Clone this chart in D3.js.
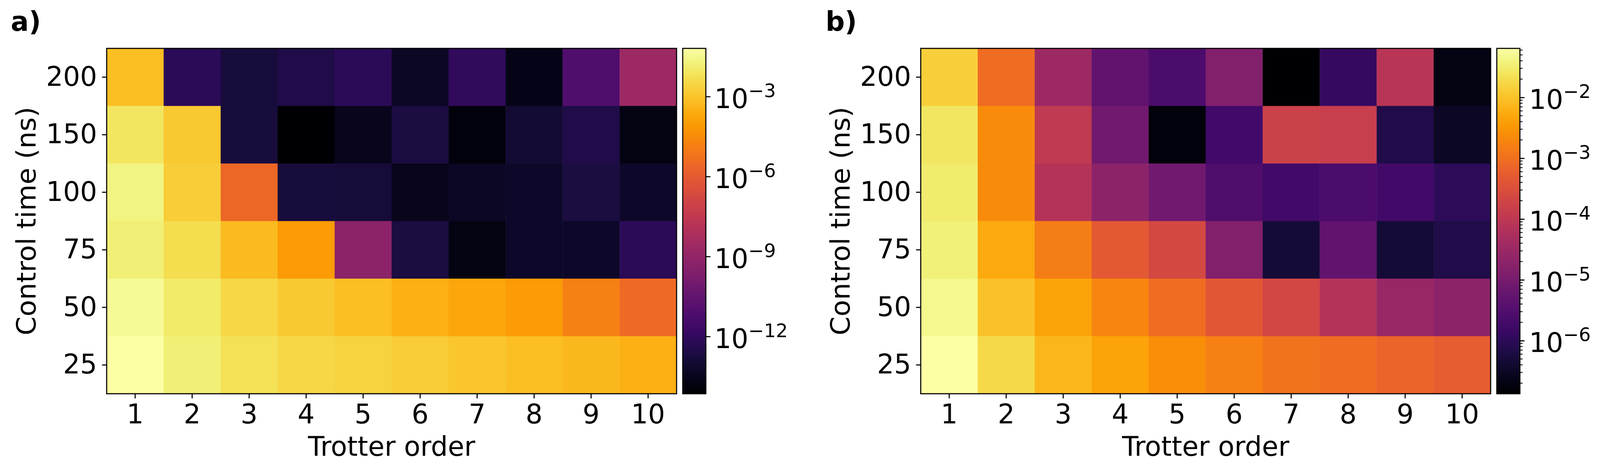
<!DOCTYPE html>
<html>
<head>
<meta charset="utf-8">
<script src="https://d3js.org/d3.v7.min.js"></script>
<style>
  html, body { margin: 0; background: #fff; overflow: hidden; }
  svg { display: block; width: 100vw; height: 100vh; }
  text { font-family: "DejaVu Sans", sans-serif; fill: #000; }
</style>
</head>
<body>
<svg viewBox="0 0 4155 1207" preserveAspectRatio="none"></svg>
<script>
// trotter orders (columns) and control times in ns (rows, top to bottom)
var orders = [1, 2, 3, 4, 5, 6, 7, 8, 9, 10];
var times = [200, 150, 100, 75, 50, 25];

// panel a) values, one row per control time
var errorsA = [
  [7.6e-4, 6.6e-13, 1.5e-13, 2.7e-13, 6.6e-13, 4.6e-14, 8.9e-13, 2.5e-14, 7.2e-12, 2.1e-9],
  [8.1e-3, 1.4e-3, 1.5e-13, 7.1e-15, 3.4e-14, 2.0e-13, 1.4e-14, 1.1e-13, 2.7e-13, 1.9e-14],
  [2.0e-2, 1.9e-3, 2.6e-6, 1.5e-13, 1.4e-13, 3.4e-14, 4.6e-14, 6.2e-14, 2.0e-13, 6.2e-14],
  [1.5e-2, 4.5e-3, 5.6e-4, 9.3e-5, 6.3e-10, 2.0e-13, 1.9e-14, 6.2e-14, 6.0e-14, 6.6e-13],
  [3.6e-2, 1.1e-2, 3.4e-3, 1.4e-3, 7.6e-4, 3.1e-4, 1.7e-4, 9.3e-5, 1.6e-5, 3.5e-6],
  [6.4e-2, 1.5e-2, 6.1e-3, 3.4e-3, 2.5e-3, 1.6e-3, 1.2e-3, 7.6e-4, 4.9e-4, 3.1e-4]
];

// panel b) values
var errorsB = [
  [1.4e-2, 9.0e-4, 3.4e-5, 4.8e-6, 2.5e-6, 1.4e-5, 1.34e-7, 1.3e-6, 8.5e-5, 2.1e-7],
  [2.6e-2, 2.2e-3, 1.1e-4, 8.1e-6, 1.8e-7, 1.9e-6, 1.7e-4, 1.4e-4, 6.8e-7, 3.1e-7],
  [3.0e-2, 2.2e-3, 7.4e-5, 2.0e-5, 8.1e-6, 2.8e-6, 1.9e-6, 2.5e-6, 1.9e-6, 1.0e-6],
  [3.5e-2, 5.5e-3, 1.5e-3, 4.7e-4, 2.4e-4, 1.4e-5, 4.6e-7, 4.8e-6, 4.6e-7, 6.8e-7],
  [4.5e-2, 1.0e-2, 4.3e-3, 1.9e-3, 8.9e-4, 4.1e-4, 2.1e-4, 7.4e-5, 3.0e-5, 2.0e-5],
  [6.4e-2, 1.8e-2, 7.2e-3, 4.3e-3, 2.5e-3, 1.7e-3, 1.1e-3, 8.9e-4, 6.9e-4, 5.3e-4]
];

// colorbar ticks (exponents of ten)
var cbTicksA = [-3, -6, -9, -12];
var cbTicksB = [-2, -3, -4, -5, -6];

var svg = d3.select("svg");
var fs = 69.4, lw = 2.8;
var plotTop = 124, plotW = 1480, plotH = 885;

function drawPanel(opt) {
  var g = svg.append("g");
  var x = d3.scaleBand().domain(orders).range([opt.left, opt.left + plotW]);
  var y = d3.scaleBand().domain(times).range([plotTop, plotTop + plotH]);
  var flat = [].concat.apply([], opt.data);
  var color = d3.scaleSequentialLog(d3.interpolateInferno).domain(d3.extent(flat));

  var cells = [];
  opt.data.forEach(function(row, i) {
    row.forEach(function(v, j) {
      cells.push({ t: times[i], o: orders[j], v: v });
    });
  });

  g.selectAll("rect.cell")
    .data(cells)
    .enter()
    .append("rect")
    .attr("class", "cell")
    .attr("x", function(d) { return x(d.o); })
    .attr("y", function(d) { return y(d.t); })
    .attr("width", x.bandwidth() + 0.5)
    .attr("height", y.bandwidth() + 0.5)
    .attr("fill", function(d) { return color(d.v); });

  g.append("rect")
    .attr("x", opt.left).attr("y", plotTop)
    .attr("width", plotW).attr("height", plotH)
    .attr("fill", "none").attr("stroke", "#000").attr("stroke-width", lw);

  var xa = g.append("g")
    .attr("transform", "translate(0," + (plotTop + plotH) + ")")
    .call(d3.axisBottom(x).tickSize(12).tickPadding(15).tickSizeOuter(0));
  var ya = g.append("g")
    .attr("transform", "translate(" + opt.left + ",0)")
    .call(d3.axisLeft(y).tickSize(12).tickPadding(13).tickSizeOuter(0));
  [xa, ya].forEach(function(a) {
    a.select(".domain").remove();
    a.selectAll("line").attr("stroke", "#000").attr("stroke-width", lw);
    a.selectAll("text").attr("font-size", fs).attr("font-family", "DejaVu Sans");
  });

  g.append("text")
    .attr("x", opt.left + plotW / 2).attr("y", 1168)
    .attr("text-anchor", "middle").attr("font-size", fs)
    .text("Trotter order");

  g.append("text")
    .attr("transform", "translate(" + (opt.left - 185) + "," + (plotTop + plotH / 2) + ") rotate(-90)")
    .attr("text-anchor", "middle").attr("font-size", fs)
    .text("Control time (ns)");

  g.append("text")
    .attr("x", opt.letterX).attr("y", 79)
    .attr("font-size", fs).attr("font-weight", "bold")
    .text(opt.letter);

  // colorbar
  var cbX = opt.left + plotW + 16, cbW = 60;
  var dom = color.domain();
  var cy = d3.scaleLog().domain(dom).range([plotTop + plotH, plotTop]);
  var gid = "grad" + opt.letter.charAt(0);
  var grad = svg.append("defs").append("linearGradient")
    .attr("id", gid).attr("x1", 0).attr("y1", 1).attr("x2", 0).attr("y2", 0);
  grad.selectAll("stop")
    .data(d3.range(0, 1.0001, 0.02))
    .enter()
    .append("stop")
    .attr("offset", function(d) { return d; })
    .attr("stop-color", function(d) { return d3.interpolateInferno(d); });

  g.append("rect")
    .attr("x", cbX).attr("y", plotTop).attr("width", cbW).attr("height", plotH)
    .attr("fill", "url(#" + gid + ")")
    .attr("stroke", "#000").attr("stroke-width", lw);

  if (opt.minor) {
    var minors = [];
    for (var e = Math.floor(Math.log10(dom[0])); e <= 0; e++) {
      for (var k = 2; k <= 9; k++) {
        var v = k * Math.pow(10, e);
        if (v >= dom[0] && v <= dom[1]) minors.push(v);
      }
    }
    g.selectAll("line.minor")
      .data(minors)
      .enter()
      .append("line")
      .attr("class", "minor")
      .attr("x1", cbX + cbW).attr("x2", cbX + cbW + 7)
      .attr("y1", function(d) { return cy(d); })
      .attr("y2", function(d) { return cy(d); })
      .attr("stroke", "#000").attr("stroke-width", 2.1);
  }

  var ca = g.append("g")
    .attr("transform", "translate(" + (cbX + cbW) + ",0)")
    .call(d3.axisRight(cy)
      .tickValues(opt.cbTicks.map(function(p) { return Math.pow(10, p); }))
      .tickSize(12).tickPadding(opt.cbPad).tickFormat(""));
  ca.select(".domain").remove();
  ca.selectAll("line").attr("stroke", "#000").attr("stroke-width", lw);
  ca.selectAll("text")
    .attr("font-size", fs).attr("dy", 29)
    .each(function(d) {
      var t = d3.select(this);
      t.append("tspan").text("10");
      t.append("tspan")
        .attr("font-size", fs * 0.7).attr("dy", -28)
        .text("\u2212" + Math.round(-Math.log10(d)));
    });
}

drawPanel({ left: 277, data: errorsA, letter: "a)", letterX: 28, cbTicks: cbTicksA, cbPad: 10, minor: false });
drawPanel({ left: 2391, data: errorsB, letter: "b)", letterX: 2144, cbTicks: cbTicksB, cbPad: 12, minor: true });
</script>
</body>
</html>
